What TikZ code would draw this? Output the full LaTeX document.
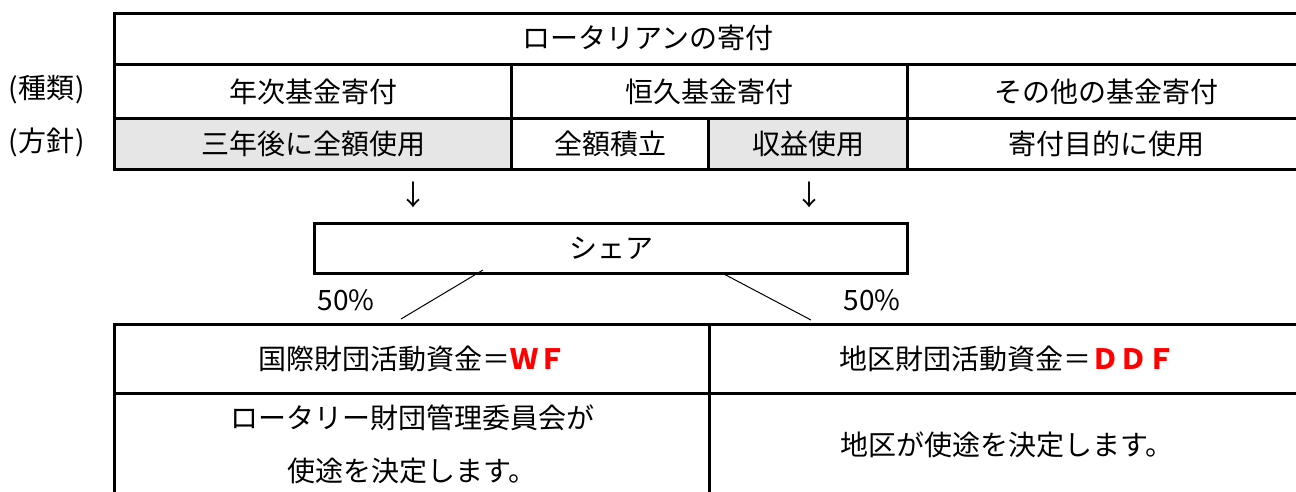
\documentclass[tikz,border=0pt]{standalone}
\usepackage{fontspec}
\setmainfont{Noto Sans CJK JP}
\definecolor{cellgray}{HTML}{E6E6E6}
\definecolor{ddred}{HTML}{FF0000}
\begin{document}
\begin{tikzpicture}[x=1pt,y=-1pt,
  font=\fontsize{28}{32}\selectfont,
  cell/.style={draw, line width=3pt, inner sep=0pt, anchor=north west},
  grayc/.style={cell, fill=cellgray},
  lbl/.style={inner sep=0pt},
  thinline/.style={line width=1pt}]
\useasboundingbox[fill=white] (0,0) rectangle (1296,491);
% top table
\node[cell, minimum width=1190pt, minimum height=51pt] (r1) at (113,12) {};
\node[lbl] (r1t) at (648,38) {ロータリアンの寄付};
\node[cell, minimum width=397pt, minimum height=54pt] (c21) at (113,63) {年次基金寄付};
\node[cell, minimum width=396pt, minimum height=54pt] (c22) at (510,63) {恒久基金寄付};
\node[cell, minimum width=397pt, minimum height=54pt] (c23) at (906,63) {その他の基金寄付};
\node[grayc, minimum width=397pt, minimum height=51pt] (c31) at (113,117) {三年後に全額使用};
\node[cell, minimum width=197pt, minimum height=51pt] (c32) at (510,117) {全額積立};
\node[grayc, minimum width=199pt, minimum height=51pt] (c33) at (707,117) {収益使用};
\node[cell, minimum width=397pt, minimum height=51pt] (c34) at (906,117) {寄付目的に使用};
\node[lbl] (k1) at (47,90) {(\kern1pt 種類\kern1pt)};
\node[lbl] (k2) at (47,142) {(\kern1pt 方針\kern1pt)};
% arrows
\node[lbl] (a1) at (413,195) {↓};
\node[lbl] (a2) at (809,195) {↓};
% share box
\node[cell, minimum width=593pt, minimum height=50pt] (share) at (313,222) {シェア};
% split lines
\coordinate (s1) at (483,270);
\coordinate (e1) at (401,319);
\coordinate (s2) at (722,273);
\coordinate (e2) at (811,320);
\draw[thinline] (s1) -- (e1);
\draw[thinline] (s2) -- (e2);
\node[lbl] (p1) at (346,300) {50\%};
\node[lbl] (p2) at (872,300) {50\%};
% bottom table
\node[cell, minimum width=595pt, minimum height=69pt] (b11) at (113,323) {国際財団活動資金＝{\bfseries\color{ddred}ＷＦ}};
\node[cell, minimum width=595pt, minimum height=69pt] (b12) at (708,323) {地区財団活動資金＝{\bfseries\color{ddred}ＤＤＦ}};
\node[cell, minimum width=595pt, minimum height=102pt, align=center, font=\fontsize{28}{53}\selectfont] (b21) at (113,392) {ロータリー財団管理委員会が\\使途を決定します。};
\node[cell, minimum width=595pt, minimum height=102pt] (b22) at (708,392) {地区が使途を決定します。};
\end{tikzpicture}
\end{document}
